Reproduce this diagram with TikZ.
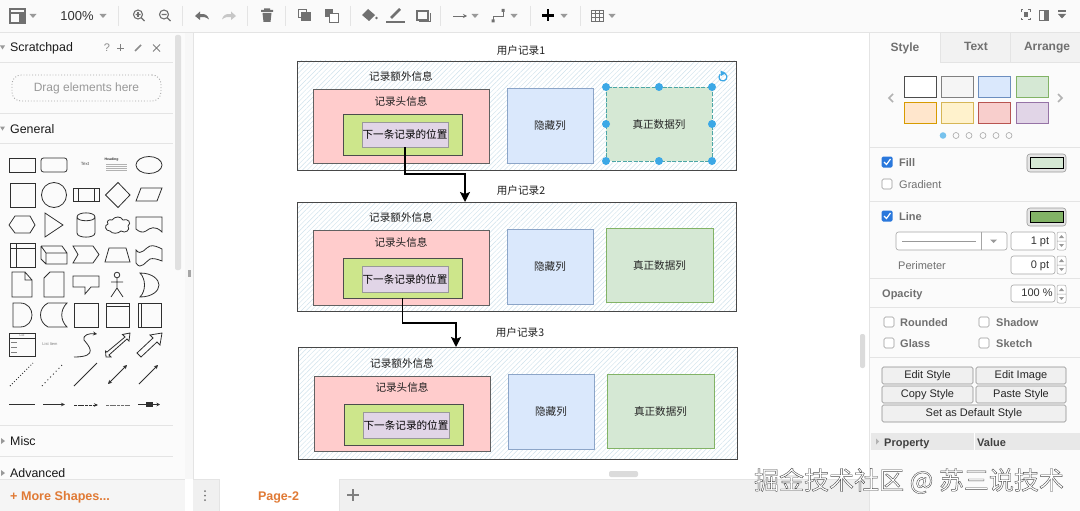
\documentclass[tikz,border=0pt]{standalone}
\usepackage{fontspec}
\setmainfont{Liberation Sans}
\newfontfamily\cjk{Noto Sans CJK SC}
\usetikzlibrary{arrows.meta,patterns.meta,shapes.geometric,calc}
\newcommand\px[1]{\fontsize{#1}{#1}\selectfont}
\definecolor{uiline}{HTML}{E4E4E4}
\definecolor{uiicon}{HTML}{707070}
\definecolor{uitext}{HTML}{707070}
\definecolor{hatch}{HTML}{CFE2EC}
\definecolor{handle}{HTML}{3CA8E6}
\definecolor{orangeui}{HTML}{E07A35}
\definecolor{checkblue}{HTML}{2A78DC}
\definecolor{shapeink}{HTML}{2F2F2F}
\definecolor{cred}{RGB}{255,204,204}
\definecolor{clime}{RGB}{205,230,139}
\definecolor{cpurple}{RGB}{225,213,231}
\definecolor{cblue}{RGB}{218,232,252}
\definecolor{cbluel}{RGB}{140,165,200}
\definecolor{cgreen}{RGB}{213,232,212}
\definecolor{cgreenl}{RGB}{130,179,102}
\definecolor{corange}{RGB}{255,230,204}
\definecolor{corangel}{RGB}{215,155,0}
\definecolor{cyellow}{RGB}{255,242,204}
\definecolor{cyellowl}{RGB}{214,182,86}
\definecolor{cpink}{RGB}{248,206,204}
\definecolor{cpinkl}{RGB}{184,84,80}
\definecolor{cviolet}{RGB}{150,115,166}
\definecolor{cblued}{RGB}{108,142,191}
\tikzset{
  cjklabel/.style={font=\cjk\px{10.6},text=black!88,inner sep=0pt},
  outerbox/.style={draw=black!72,line width=.9pt,pattern={Lines[angle=45,distance=3.4pt,line width=.45pt]},pattern color=hatch},
  redbox/.style={draw=black!62,fill=cred,line width=.8pt},
  limebox/.style={draw=black!70,fill=clime,line width=.8pt,font=\cjk\px{10.6}},
  purplebox/.style={draw=black!40,fill=cpurple,line width=.8pt,font=\cjk\px{10.6},text=black},
  bluebox/.style={draw=cbluel,fill=cblue,line width=.7pt,font=\cjk\px{10.6},text=black!85},
  greenbox/.style={draw=cgreenl,fill=cgreen,line width=.7pt,font=\cjk\px{10.6},text=black!85},
  flow/.style={draw=black,line width=1.6pt,-{Stealth[length=10pt,width=10pt,inset=2pt]}},
  hdl/.style={circle,fill=handle,inner sep=0pt,minimum size=8pt},
  sepline/.style={draw=uiline,line width=.7pt},
  ic/.style={draw=uiicon,line width=1.1pt},
  sh/.style={draw=shapeink,line width=.8pt},
  uil/.style={font=\px{11},text=uitext,inner sep=0pt,anchor=base west,yshift=-4pt},
  uib/.style={font=\bfseries\px{11},text=uitext,inner sep=0pt,anchor=base west,yshift=-4pt},
  head/.style={font=\px{12.4},text=black!90,inner sep=0pt,anchor=base west,yshift=-4pt},
  tabl/.style={font=\bfseries\px{12},text=uitext,inner sep=0pt,anchor=base,yshift=-4pt},
  spin/.style={draw=black!35,fill=white,rounded corners=2.5pt,line width=.6pt,inner sep=0pt,font=\px{11},text=black!80,align=right,text height=8pt,text depth=2pt},
  btn/.style={draw=black!45,fill=black!6,rounded corners=1.5pt,line width=.6pt,inner sep=0pt,font=\px{11},text=black!85,text height=8pt,text depth=2pt},
  chk/.style={draw=black!40,fill=white,rounded corners=1.5pt,line width=.6pt,minimum size=10pt,inner sep=0pt},
  chkon/.style={fill=checkblue,rounded corners=1.5pt,minimum size=11pt,inner sep=0pt},
  tri/.style={fill=black!40},
}
% named box from pixel corners
\newcommand\bx[7]{\path ({(#3+#5)/2},{(#4+#6)/2}) node[#2,inner sep=0pt,outer sep=0pt,minimum width={(#5-#3)*1pt},minimum height={(#6-#4)*1pt}] (#1) {#7};}
\newcommand\caret[2]{\fill[tri] (#1-3.5,#2-2) -- (#1+3.5,#2-2) -- (#1,#2+2) -- cycle;}
\begin{document}
\begin{tikzpicture}[x=1pt,y=-1pt]
\useasboundingbox (0,0) rectangle (1080,511);
\fill[white] (0,0) rectangle (1080,511);
% ---------- chrome backgrounds
\fill[black!2] (0,0) rectangle (1080,32);
\draw[sepline] (0,32) -- (1080,32);
\fill[black!1.5] (0,33) rectangle (185,511);
\fill[black!3] (185,33) rectangle (193,479);
\fill[black!1.5] (869,33) rectangle (1080,511);
\draw[sepline] (869,33) -- (869,511);
\draw[sepline] (193,33) -- (193,479);
\fill[black!6] (193,479) rectangle (869,511);
\draw[sepline] (193,479) -- (869,479);
\fill[white] (219,479) rectangle (339,511);
\draw[sepline] (219,479) -- (219,511) (339,479) -- (339,511);
% ---------- records
\bx{rec1}{outerbox}{297}{61}{736}{170}{}
\bx{red1}{redbox}{313}{89}{489}{163}{}
\bx{lime1}{limebox}{343}{114}{462}{155}{}
\bx{next1}{purplebox}{362}{122}{448}{147}{下一条记录的位置}
\bx{hid1}{bluebox}{507}{88}{593}{163}{隐藏列}
\bx{data1}{greenbox,dashed,dash pattern=on 4pt off 1.5pt,draw=teal!70}{606}{87}{712}{161}{真正数据列}
\node[cjklabel] (title1) at (521,50) {用户记录1};
\node[cjklabel] (extra1) at (401,76) {记录额外信息};
\node[cjklabel] (hdr1) at (401,101) {记录头信息};

\bx{rec2}{outerbox}{297}{202}{736}{311}{}
\bx{red2}{redbox}{313}{230}{489}{305}{}
\bx{lime2}{limebox}{343}{258}{462}{298}{}
\bx{next2}{purplebox}{362}{266}{448}{292}{下一条记录的位置}
\bx{hid2}{bluebox}{507}{229}{593}{304}{隐藏列}
\bx{data2}{greenbox}{606}{228}{713}{302}{真正数据列}
\node[cjklabel] (title2) at (521,190) {用户记录2};
\node[cjklabel] (extra2) at (401,217) {记录额外信息};
\node[cjklabel] (hdr2) at (401,242) {记录头信息};

\bx{rec3}{outerbox}{298}{347}{737}{459}{}
\bx{red3}{redbox}{314}{376}{490}{451}{}
\bx{lime3}{limebox}{344}{404}{463}{445}{}
\bx{next3}{purplebox}{363}{412}{449}{438}{下一条记录的位置}
\bx{hid3}{bluebox}{508}{374}{594}{449}{隐藏列}
\bx{data3}{greenbox}{607}{374}{714}{448}{真正数据列}
\node[cjklabel] (title3) at (520,332) {用户记录3};
\node[cjklabel] (extra3) at (402,363) {记录额外信息};
\node[cjklabel] (hdr3) at (402,387) {记录头信息};
% ---------- connectors
\coordinate (in2) at (465,202);
\coordinate (in3) at (456,347);
\draw[flow] (next1.south) -- ++(0,27) -| (in2);
\draw[flow] (lime2.south) -- ++(0,25) -| (in3);
% ---------- selection
\foreach \n/\hx/\hy in {a/606/87,b/659/87,c/712/87,d/606/124,e/712/124,f/606/161,g/659/161,h/712/161}
  \node[hdl] (h\n) at (\hx,\hy) {};
\draw[handle,line width=1.2pt] (723,77) ++(60:4pt) arc[start angle=60,end angle=-225,radius=4pt];
\fill[handle] (720.5,70.5) -- (726,73) -- (721,76) -- cycle;
% ---------- canvas scroll handles
\fill[black!14,rounded corners=2pt] (609,471) rectangle (638,477);
\fill[black!14,rounded corners=2pt] (860,334) rectangle (865,368);
\fill[black!12,rounded corners=2pt] (175,35) rectangle (181,270);
\fill[black!35] (187.5,270) rectangle (190.5,277);
% ---------- toolbar
\draw[ic] (10,9) rectangle (25,23) (10,13) -- (25,13) (20,13) -- (20,23);
\fill[uiicon] (20,13) rectangle (25,23);
\caret{33}{16}
\node[font=\px{13},text=black!80,inner sep=0pt] (zoomlevel) at (77,16.5) {100\%};
\caret{103}{16}
\foreach \sx in {118,182,247,285,350,440,530,580} \draw[sepline] (\sx,6) -- (\sx,26);
% zoom in/out
\foreach \cx in {138,164}{\draw[ic] (\cx,14.5) circle (4.5) (\cx+3.3,17.8) -- (\cx+6.5,21) (\cx-2.5,14.5) -- (\cx+2.5,14.5);}
\draw[ic] (138,12) -- (138,17);
% undo / redo
\fill[uiicon] (195,16) -- (200,11.5) -- (200,14) .. controls (205,13.5) and (208,15) .. (209,19.5) .. controls (206,17) and (203,16.5) .. (200,17) -- (200,20) -- cycle;
\fill[black!22] (236,16) -- (231,11.5) -- (231,14) .. controls (226,13.5) and (223,15) .. (222,19.5) .. controls (225,17) and (228,16.5) .. (231,17) -- (231,20) -- cycle;
% trash
\fill[uiicon] (261,10) rectangle (273,12) (264,8.5) rectangle (270,10) (262.5,13) -- (271.5,13) -- (270.5,22) -- (263.5,22) -- cycle;
% to front / back
\draw[ic,line width=.9pt] (298,9) rectangle (306,17); \fill[uiicon] (301,12) rectangle (311,21);
\fill[uiicon] (325,9) rectangle (333,17); \draw[ic,line width=.9pt,fill=white] (329,13) rectangle (338,22);
% fill, line, shadow
\fill[uiicon] (368,9) -- (375,15) -- (369,21) -- (362,15) -- cycle;
\fill[uiicon] (376.5,18) circle (1.3);
\fill[uiicon] (386,21.5) rectangle (405,23.5);
\draw[uiicon,line width=2.6pt] (391,18) -- (400,9);
\draw[ic,line width=1.6pt] (417,11) rectangle (428,20);
\draw[uiicon,line width=1pt] (419,22) -- (430,22) -- (430,13);
% connector style
\draw[uiicon,line width=.9pt,-{Stealth[length=4pt,width=4pt]}] (453,16) -- (467,16);
\caret{475}{16}
\draw[uiicon,line width=.9pt] (493,21) -- (493,16) -- (503,16) -- (503,10);
\fill[uiicon] (491.5,19.5) rectangle (494.5,22.5) (501.5,9) rectangle (504.5,12);
\caret{514}{16}
% plus
\draw[black,line width=2.6pt] (542,15.5) -- (554,15.5) (548,9.5) -- (548,21.5);
\caret{564}{16}
% table
\draw[ic,line width=.8pt] (591,10) rectangle (603,21) (591,13.7) -- (603,13.7) (591,17.3) -- (603,17.3) (595,10) -- (595,21) (599,10) -- (599,21);
\caret{612}{16}
% top right icons
\draw[ic,line width=1pt] (1021,12) -- (1021,10) -- (1023,10) (1028,10) -- (1030,10) -- (1030,12) (1030,18) -- (1030,20) -- (1028,20) (1023,20) -- (1021,20) -- (1021,18);
\fill[uiicon] (1023.5,12.5) rectangle (1027.5,17.5);
\draw[ic,line width=.9pt] (1039,10.5) rectangle (1048,20); \fill[uiicon] (1044,10.5) rectangle (1048,20);
\fill[uiicon] (1058,14) -- (1066,14) -- (1062,18.5) -- cycle; \fill[uiicon] (1058,10.5) rectangle (1066,12);
% ---------- left panel
\fill[tri] (0,45.5) -- (5,45.5) -- (2.5,49.5) -- cycle;
\node[head] (scratch) at (10,48) {Scratchpad};
\node[font=\px{11},text=black!45,inner sep=0pt] (qmark) at (107,48) {?};
\draw[black!50,line width=.8pt] (117,48) -- (124,48) (120.5,44.5) -- (120.5,51.5);
\draw[black!45,line width=1.6pt] (135,51) -- (141,45);
\draw[black!50,line width=.8pt] (153,44.5) -- (160,51.5) (160,44.5) -- (153,51.5);
\draw[sepline] (0,62) -- (173,62);
\bx{drag}{draw=black!35,dotted,line width=.9pt,rounded corners=9pt,font=\px{12},text=black!40}{12}{75}{161}{101}{Drag elements here}
\draw[sepline] (0,113) -- (173,113);
\fill[tri] (0,126.5) -- (5,126.5) -- (2.5,130.5) -- cycle;
\node[head] (general) at (10,129) {General};
\draw[sepline] (0,143) -- (173,143);
% shapes row 1
\draw[sh] (9,158) rectangle (35,172);
\draw[sh,rounded corners=2.5pt] (41,158) rectangle (67,172);
\node[font=\px{4.5},text=black!70,inner sep=0pt] (stext) at (85,164) {Text};
\node[font=\bfseries\px{3.5},text=black!80,inner sep=0pt] (sheading) at (111.5,160) {Heading};
\foreach \ly in {164,166,168,170} \draw[black!30,line width=.7pt] (106,\ly) -- (127,\ly);
\draw[sh] (149,165) ellipse (13 and 8.5);
% row 2
\draw[sh] (10,183) rectangle (35,207);
\draw[sh] (54,195) circle (12.5);
\draw[sh] (73,188) rectangle (99,201) (78,188) -- (78,201) (94,188) -- (94,201);
\draw[sh] (118,182.5) -- (130,195) -- (118,207.5) -- (105.5,195) -- cycle;
\draw[sh] (141,188) -- (162,188) -- (157,201) -- (136,201) -- cycle;
% row 3
\draw[sh] (15,216) -- (30,216) -- (35,225) -- (30,233) -- (15,233) -- (9,225) -- cycle;
\draw[sh] (45,213) -- (63,225) -- (45,237) -- cycle;
\draw[sh] (77,217) -- (77,233) .. controls (77,238.5) and (95,238.5) .. (95,233) -- (95,217) .. controls (95,211.5) and (77,211.5) .. (77,217) .. controls (77,222) and (95,222) .. (95,217);
\draw[sh] (112,220) .. controls (115,216) and (121,216) .. (123,220) .. controls (128,218) and (132,223) .. (128,226) .. controls (131,230) and (125,234) .. (121,231) .. controls (118,234) and (112,234) .. (110,231) .. controls (105,231) and (104,225) .. (108,224) .. controls (106,221) and (109,219) .. (112,220) -- cycle;
\draw[sh] (136,217) -- (162,217) -- (162,232) .. controls (155,225) and (150,228) .. (146,231) .. controls (143,233) and (139,232) .. (136,229) -- cycle;
% row 4
\draw[sh] (10,243) rectangle (35,267) (10,248) -- (35,248) (16,243) -- (16,267);
\draw[sh] (46,253) rectangle (67,264) (41,246) -- (46,253) (41,246) -- (41,259) -- (46,264) (41,246) -- (62,246) -- (67,253);
\draw[sh] (73,246) -- (93,246) -- (99,254.5) -- (93,263) -- (73,263) -- (78,254.5) -- cycle;
\draw[sh] (109,248) -- (126,248) -- (130,262) -- (105,262) -- cycle;
\draw[sh] (136,250) .. controls (141,257) and (146,247) .. (150,246) .. controls (154,245) and (158,247) .. (162,249) -- (162,261) .. controls (157,259) and (153,258) .. (150,259) .. controls (146,261) and (141,271) .. (136,263) -- cycle;
% row 5
\draw[sh] (12,272) -- (25,272) -- (32,280) -- (32,297) -- (12,297) -- cycle (25,272) -- (25,280) -- (32,280);
\draw[sh] (50,272) -- (64,272) -- (64,297) -- (44,297) -- (44,278) -- cycle;
\draw[sh] (73,276) -- (99,276) -- (99,287) -- (91,287) -- (85,294) -- (85,287) -- (73,287) -- cycle;
\draw[sh] (117,275) circle (2.8) (117,278) -- (117,288) (111,282) -- (123,282) (117,288) -- (111,297) (117,288) -- (123,297);
\draw[sh] (140,273) .. controls (153,273) and (159,280) .. (159,285) .. controls (159,291) and (152,297) .. (140,297) .. controls (146,291) and (146,279) .. (140,273) -- cycle;
% row 6
\draw[sh] (13,303) -- (20,303) .. controls (36,303) and (36,327) .. (20,327) -- (13,327) -- cycle;
\draw[sh] (48,303) -- (67,303) .. controls (60,310) and (60,320) .. (67,327) -- (48,327) .. controls (38,322) and (38,308) .. (48,303) -- cycle;
\draw[sh] (74,303) rectangle (98,327);
\draw[sh] (106,303) rectangle (129,327) (106,306) -- (129,306);
\draw[sh] (138,303) rectangle (161,327) (141,303) -- (141,327);
% row 7
\draw[sh] (9,333) rectangle (35,356) (9,338) -- (35,338);
\node[font=\px{3},text=black!60,inner sep=0pt] (listtitle) at (22,335.5) {List};
\foreach \ly in {342,347,352} \draw[black!50,line width=.6pt] (11,\ly) -- (17,\ly);
\node[font=\px{4},text=black!50,inner sep=0pt] (listitem) at (50,344) {List Item};
\draw[sh,-{Stealth[length=4pt,width=4pt]}] (74,357) .. controls (100,357) and (88,345) .. (84,340) .. controls (82,335) and (90,333) .. (97,334);
\draw[sh] (107,352) -- (125,337) -- (122.5,334.5) -- (130,333) -- (129,341) -- (127,339) -- (109,355) -- (111,357) -- (106,357) -- (105.5,351) -- cycle;
\draw[sh] (137,353) -- (153,338) -- (150,335) -- (162,333) -- (160,345) -- (157,342) -- (141,357) -- cycle;
% row 8
\draw[shapeink,line width=.9pt,dotted] (10,386) -- (33,363);
\draw[shapeink,line width=.9pt,dash pattern=on 1pt off 3pt] (42,386) -- (64,363);
\draw[sh] (74,386) -- (97,363);
\draw[sh,{Stealth[length=4pt,width=4pt]}-{Stealth[length=4pt,width=4pt]}] (108,384) -- (127,365);
\draw[sh,-{Stealth[length=4pt,width=4pt]}] (139,384) -- (158,365);
% row 9
\draw[shapeink,line width=1.8pt] (9,404.5) -- (35,404.5);
\draw[shapeink,line width=.7pt,-{Stealth[length=4pt,width=3.5pt]}] (43,404.5) -- (65,404.5);
\draw[shapeink,line width=.7pt,dash pattern=on 3pt off .7pt,-{Stealth[length=4pt,width=3.5pt]}] (74,405) -- (98,405);
\draw[shapeink!70,line width=.7pt,dash pattern=on 3pt off .7pt] (106,405) -- (130,405);
\draw[shapeink,line width=.7pt,-{Stealth[length=3.5pt,width=3.5pt]}] (138,404.5) -- (160,404.5);
\fill[shapeink] (146,402) rectangle (153,407);
\draw[sepline] (0,425) -- (173,425);
\fill[tri] (1,438) -- (5,441) -- (1,444) -- cycle;
\node[head] (misc) at (10,441) {Misc};
\draw[sepline] (0,456) -- (173,456);
\fill[tri] (1,470) -- (5,473) -- (1,476) -- cycle;
\node[head] (advanced) at (10,473) {Advanced};
\draw[sepline] (0,479) -- (185,479);
\fill[black!4] (0,480) rectangle (185,511);
\node[font=\bfseries\px{12.6},text=orangeui,inner sep=0pt,anchor=west] (more) at (10,497) {+ More Shapes...};
% ---------- bottom bar
\foreach \dy in {491,495.5,500} \fill[black!55] (205,\dy) circle (1);
\node[font=\bfseries\px{12.5},text=orangeui,inner sep=0pt] (page) at (278.5,497) {Page-2};
\draw[black!50,line width=1.6pt] (347,495) -- (359,495) (353,489) -- (353,501);
% ---------- right panel
\fill[black!5] (940,33) rectangle (1080,62);
\draw[sepline] (940,33) -- (940,62) (1010,33) -- (1010,62) (940,62) -- (1080,62);
\node[tabl] (tabstyle) at (905,48) {Style};
\node[tabl] (tabtext) at (976,47) {Text};
\node[tabl] (tabarrange) at (1047,47) {Arrange};
\draw[black!30,line width=1.6pt] (893,94) -- (889,98) -- (893,102) (1058,94) -- (1062,98) -- (1058,102);
\foreach \nm/\sx/\sy/\fc/\dc in {
  s1/904/76/white/black!70,
  s2/941/76/black!4/black!50,
  s3/978/76/cblue/cblued,
  s4/1016/76/cgreen/cgreenl,
  s5/904/102/corange/corangel,
  s6/941/102/cyellow/cyellowl,
  s7/978/102/cpink/cpinkl,
  s8/1016/102/cpurple/cviolet}
  {\node[draw=\dc,fill=\fc,line width=.7pt,minimum width=32pt,minimum height=21pt,inner sep=0pt,outer sep=0pt,anchor=north west] (\nm) at (\sx,\sy) {};}
\fill[handle!70] (943,135.5) circle (3.3);
\foreach \dx in {956,969,983,996,1009} \draw[black!35,line width=.6pt] (\dx,135.5) circle (3);
\draw[sepline] (869,147) -- (1080,147);
\node[chkon] (chkfill) at (887,162) {};
\draw[white,line width=1.2pt] (884,162) -- (886.5,164.5) -- (890.5,159);
\node[uib] (lfill) at (899,162.5) {Fill};
\bx{cfill}{draw=black!40,fill=black!10,rounded corners=3pt,line width=.6pt}{1027}{154}{1066}{172}{}
\fill[cgreen,draw=black] (1030,157.5) rectangle (1063,168.5);
\node[chk] (chkgrad) at (887,184) {};
\node[uil] (lgrad) at (899,184.5) {Gradient};
\draw[sepline] (869,201) -- (1080,201);
\node[chkon] (chkline) at (887,216) {};
\draw[white,line width=1.2pt] (884,216) -- (886.5,218.5) -- (890.5,213);
\node[uib] (lline) at (899,216.5) {Line};
\bx{cline}{draw=black!40,fill=black!10,rounded corners=3pt,line width=.6pt}{1027}{208}{1066}{226}{}
\fill[cgreenl,draw=black] (1030,211.5) rectangle (1063,222.5);
\bx{linedrop}{draw=black!35,fill=white,rounded corners=2.5pt,line width=.6pt}{896}{232}{1007}{250}{}
\draw[black!35,line width=.6pt] (981,232) -- (981,250);
\draw[black!40,line width=1pt] (902,241) -- (976,241);
\fill[tri] (990,239.5) -- (997,239.5) -- (993.5,243) -- cycle;
\bx{sp1}{spin}{1011}{232}{1055}{250}{\hspace*{14pt}1 pt}
\bx{sp2}{spin}{1011}{256}{1055}{274}{\hspace*{14pt}0 pt}
\node[uil] (lperim) at (898,265) {Perimeter};
\draw[sepline] (869,278) -- (1080,278);
\node[uib] (lopac) at (882,293.5) {Opacity};
\bx{sp3}{spin}{1011}{285}{1055}{302}{\hspace*{8pt}100 \%}
\foreach \sy in {241,265,294}{
  \draw[black!35,fill=white,rounded corners=2pt,line width=.5pt] (1057,\sy-9) rectangle (1066,\sy+9) (1057,\sy) -- (1066,\sy);
  \fill[tri] (1059,\sy-3) -- (1064,\sy-3) -- (1061.5,\sy-6) -- cycle (1059,\sy+3) -- (1064,\sy+3) -- (1061.5,\sy+6) -- cycle;}
\draw[sepline] (869,307) -- (1080,307);
\node[chk] (chkr) at (889,322) {}; \node[uib] (lr) at (900,322.5) {Rounded};
\node[chk] (chks) at (984,322) {}; \node[uib] (ls) at (996,322.5) {Shadow};
\node[chk] (chkg) at (889,343) {}; \node[uib] (lg) at (900,343.5) {Glass};
\node[chk] (chkk) at (984,343) {}; \node[uib] (lk) at (996,343.5) {Sketch};
\draw[sepline] (869,357) -- (1080,357);
\bx{b1}{btn}{882}{367}{973}{384}{Edit Style}
\bx{b2}{btn}{976}{367}{1066}{384}{Edit Image}
\bx{b3}{btn}{882}{386}{973}{403}{Copy Style}
\bx{b4}{btn}{976}{386}{1066}{403}{Paste Style}
\bx{b5}{btn}{882}{405}{1066}{422}{Set as Default Style}
\fill[black!9] (871,433) rectangle (1080,450);
\draw[white,line width=1pt] (974,433) -- (974,450);
\fill[black!30] (876,438.5) -- (879,441.5) -- (876,444.5) -- cycle;
\node[font=\bfseries\px{11},text=black!75,inner sep=0pt,anchor=base west,yshift=-4pt] (lprop) at (884,442) {Property};
\node[font=\bfseries\px{11},text=black!75,inner sep=0pt,anchor=base west,yshift=-4pt] (lval) at (977,442) {Value};
% ---------- watermark
\node[inner sep=0pt,font=\cjk\px{25},text=white] (mark) at (909,481)
  {\special{pdf:code 2 Tr 0.4 w 0.3 0.3 0.3 RG 1 1 1 rg}掘金技术社区 @ 苏三说技术\special{pdf:code 0 Tr}};
\end{tikzpicture}
\end{document}
